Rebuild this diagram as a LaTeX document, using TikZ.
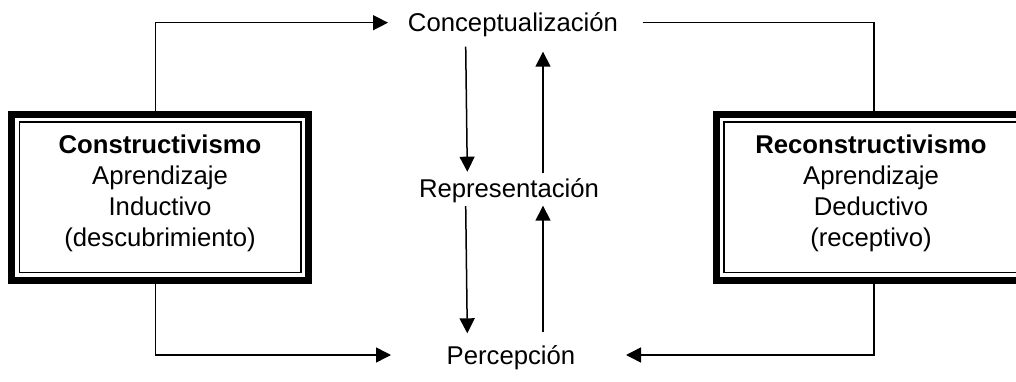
\documentclass[tikz,border=0pt]{standalone}
\usepackage{fontspec}
\setmainfont{Liberation Sans}
\usetikzlibrary{arrows.meta}
\begin{document}
\begin{tikzpicture}[x=1pt,y=1pt,
  conn/.style={line width=1.5pt},
  arr/.style={conn,-{Triangle[length=15pt,width=15pt]}},
  lbl/.style={inner sep=0pt, anchor=base, font=\fontsize{25.7}{30.8}\selectfont},
  outerbox/.style={draw, line width=7pt, outer sep=0pt, inner sep=0pt, minimum height=166pt},
  innerframe/.style={line width=1.5pt},
  boxtext/.style={align=center, font=\fontsize{25.7}{30.8}\selectfont, inner sep=0pt}]
\useasboundingbox (0,0) rectangle (1016,381);
\clip (0,0) rectangle (1016,381);
% boxes
\node[outerbox, minimum width=297pt] (lbox) at (160,184) {};
\draw[innerframe] ([shift={(7.75,-7.75)}]lbox.north west) rectangle ([shift={(-7.75,7.75)}]lbox.south east);
\node[boxtext] (ltext) at (160,187.5) {\textbf{Constructivismo}\\Aprendizaje\\Inductivo\\(descubrimiento)};
\node[outerbox, minimum width=316pt] (rbox) at (874,184) {};
\draw[innerframe] ([shift={(7.75,-7.75)}]rbox.north west) rectangle ([shift={(-7.75,7.75)}]rbox.south east);
\node[boxtext] (rtext) at (871,187.5) {\textbf{Reconstructivismo}\\Aprendizaje\\Deductivo\\(receptivo)};
% labels
\node[lbl] (conc) at (513,349) {Conceptualización};
\node[lbl] (rep) at (509,184) {Representación};
\node[lbl] (perc) at (511,16.7) {Percepción};
% connector ends
\coordinate (ctip) at (388,358.3);
\coordinate (cout) at (642.7,358.3);
\coordinate (ptipL) at (391,26);
\coordinate (ptipR) at (626,26);
\draw[arr] ([xshift=-4.3pt]lbox.north) |- (ctip);
\draw[conn] (cout) -| (rbox.north);
\draw[arr] ([xshift=-4.3pt]lbox.south) |- (ptipL);
\draw[arr] (rbox.south) |- (ptipR);
% central arrows
\coordinate (d1s) at (465.7,334.3);
\coordinate (d1e) at (467.3,209.3);
\coordinate (u1s) at (543,207.7);
\coordinate (u1e) at (543,329.3);
\coordinate (d2s) at (465.7,175);
\coordinate (d2e) at (467.3,47.7);
\coordinate (u2s) at (543,48.7);
\coordinate (u2e) at (543,175.3);
\draw[arr] (d1s) -- (d1e);
\draw[arr] (u1s) -- (u1e);
\draw[arr] (d2s) -- (d2e);
\draw[arr] (u2s) -- (u2e);
\end{tikzpicture}
\end{document}
